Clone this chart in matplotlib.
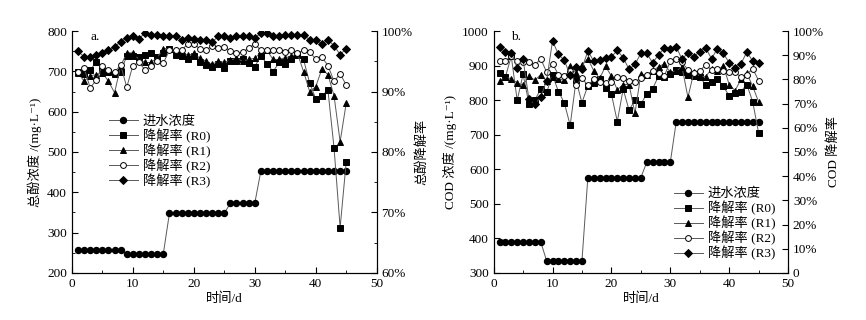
import matplotlib
matplotlib.use("Agg")
import matplotlib.pyplot as plt
from matplotlib.ticker import MultipleLocator, FuncFormatter

plt.rcParams['font.family'] = ['Liberation Serif', 'Noto Sans CJK SC', 'DejaVu Serif']
plt.rcParams['font.size'] = 9.5

days = list(range(1, 46))

# panel a: total phenol
phenol_in = [256] * 8 + [248] * 7 + [348] * 10 + [373] * 5 + [453] * 15
phenol_r0 = [93.2, 92.9, 93.6, 94.8, 93.6, 93.3, 92.9, 93.2, 95.9, 95.9,
             95.7, 96.1, 96.3, 95.7, 96.4, 97.1, 96.1, 95.9, 95.4, 95.9,
             94.8, 94.4, 94.1, 94.6, 93.9, 95.0, 95.0, 95.4, 94.7, 94.1,
             95.9, 94.6, 93.3, 94.8, 94.6, 95.4, 96.1, 95.3, 91.4, 88.8,
             89.3, 90.2, 80.7, 67.5, 78.4]
phenol_r1 = [93.1, 91.7, 92.6, 92.8, 93.1, 91.7, 89.8, 94.2, 96.4, 96.4,
             95.3, 94.8, 94.8, 95.6, 97.1, 97.1, 96.8, 96.5, 96.0, 96.3,
             95.5, 95.0, 94.5, 95.0, 94.8, 95.2, 95.5, 95.0, 95.3, 95.5,
             96.5, 96.8, 95.3, 95.3, 95.6, 95.8, 96.3, 93.3, 90.0, 90.8,
             93.7, 92.8, 89.3, 81.7, 88.1]
phenol_r2 = [93.2, 93.9, 90.6, 91.9, 94.3, 93.5, 93.2, 94.4, 90.7, 94.3,
             94.8, 93.6, 94.2, 95.0, 94.7, 96.8, 96.8, 96.8, 97.9, 97.8,
             97.1, 96.8, 97.6, 97.2, 97.4, 96.7, 96.4, 96.5, 97.2, 97.9,
             96.8, 96.8, 96.8, 96.8, 96.5, 96.8, 96.4, 96.8, 96.5, 95.4,
             95.7, 94.3, 91.7, 92.9, 91.1]
phenol_r3 = [96.7, 95.7, 95.7, 96.1, 96.4, 96.9, 97.4, 98.2, 98.9, 99.2,
             98.7, 99.7, 99.4, 99.3, 99.2, 99.1, 99.1, 98.5, 98.9, 98.7,
             98.5, 98.5, 98.2, 99.1, 99.1, 98.9, 99.1, 99.1, 99.1, 98.9,
             99.6, 99.6, 99.2, 99.2, 99.3, 99.4, 99.4, 99.3, 98.6, 98.6,
             97.9, 98.5, 97.6, 96.1, 97.1]

# panel b: COD
cod_in = [390] * 8 + [335] * 7 + [576] * 10 + [620] * 5 + [736] * 15
cod_r0 = [82.6, 81.1, 89.5, 71.4, 82.1, 70.0, 71.4, 76.1, 74.6, 81.9,
          75.0, 70.4, 61.0, 79.6, 70.4, 77.4, 78.6, 80.3, 76.4, 74.0,
          62.6, 76.0, 67.3, 71.4, 69.7, 74.1, 76.1, 81.4, 81.1, 82.3,
          83.9, 82.9, 81.9, 81.4, 80.9, 77.9, 78.9, 80.0, 77.1, 73.3,
          74.3, 75.0, 77.9, 70.7, 57.9]
cod_r1 = [79.4, 80.9, 80.3, 78.6, 77.6, 81.4, 79.7, 81.9, 79.3, 81.1,
          80.3, 79.6, 85.4, 82.6, 86.0, 88.6, 83.6, 80.4, 85.4, 81.4,
          75.7, 77.9, 77.9, 66.0, 82.1, 81.7, 83.3, 85.3, 86.4, 82.9,
          83.6, 85.0, 72.6, 82.9, 81.4, 81.1, 84.3, 83.6, 85.7, 77.9,
          75.4, 80.0, 82.6, 77.1, 70.7]
cod_r2 = [87.6, 87.8, 89.5, 87.6, 87.2, 87.0, 86.0, 88.5, 83.0, 86.5,
          82.0, 81.5, 83.5, 77.5, 80.5, 77.5, 80.0, 79.0, 78.5, 79.0,
          81.0, 80.5, 79.5, 79.0, 80.5, 82.0, 83.5, 82.5, 81.5, 87.5,
          88.5, 87.0, 84.0, 82.5, 83.5, 86.0, 84.0, 84.5, 83.5, 83.0,
          83.0, 81.0, 82.0, 84.5, 79.5]
cod_r3 = [93.4, 91.3, 91.1, 84.9, 88.3, 71.8, 69.7, 72.8, 79.4, 95.9,
          90.4, 87.9, 81.7, 85.3, 84.5, 91.7, 87.6, 88.0, 89.0, 89.3,
          92.0, 89.0, 84.2, 86.2, 90.8, 90.8, 86.9, 90.1, 93.1, 92.4,
          93.5, 88.3, 91.1, 89.4, 91.5, 93.1, 88.6, 92.7, 90.8, 86.9,
          84.9, 86.5, 91.3, 87.6, 86.9]

labels = ['进水浓度', '降解率 (R0)', '降解率 (R1)', '降解率 (R2)', '降解率 (R3)']
line_kw = dict(color='0.35', lw=0.7, mec='k')


def draw_panel(rect, inflow, rates, ylim, yminor, rlim, rminor, rfmt,
               ylabel, rlabel, tag, leg_anchor):
    ax = fig.add_axes(rect)
    ax2 = ax.twinx()
    h0, = ax.plot(days, inflow, marker='o', ms=4.3, mfc='k', **line_kw)
    hs = [h0]
    styles = [('s', 3.8, 'k'), ('^', 4.2, 'k'), ('o', 4.2, 'w'), ('D', 3.8, 'k')]
    for vals, (m, ms, fc) in zip(rates, styles):
        h, = ax2.plot(days, vals, marker=m, ms=ms, mfc=fc, mew=0.7, **line_kw)
        hs.append(h)

    ax.set_xlim(0, 50)
    ax.set_ylim(*ylim)
    ax2.set_ylim(*rlim)
    ax.xaxis.set_major_locator(MultipleLocator(10))
    ax.xaxis.set_minor_locator(MultipleLocator(5))
    ax.yaxis.set_major_locator(MultipleLocator(100))
    if yminor:
        ax.yaxis.set_minor_locator(MultipleLocator(yminor))
    ax2.yaxis.set_major_locator(MultipleLocator(10))
    if rminor:
        ax2.yaxis.set_minor_locator(MultipleLocator(rminor))
    ax2.yaxis.set_major_formatter(FuncFormatter(rfmt))

    for a in (ax, ax2):
        a.spines['top'].set_visible(False)
        a.tick_params(which='both', direction='in', top=False)
        a.tick_params(which='major', length=4)
        a.tick_params(which='minor', length=2.5)
    ax.tick_params(right=False, which='both')

    ax.set_xlabel('时间/d', labelpad=2)
    ax.set_ylabel(ylabel, labelpad=4)
    ax2.set_ylabel(rlabel, rotation=90, labelpad=2)
    ax.text(0.06, 1.0, tag, transform=ax.transAxes, va='top', fontsize=9.5)

    ax2.legend(hs, labels, loc='upper left', bbox_to_anchor=leg_anchor,
               frameon=False, handlelength=2.2, labelspacing=0.05,
               handletextpad=0.4, borderpad=0.2, fontsize=9.5)
    return ax, ax2


fig = plt.figure(figsize=(8.66, 3.2), dpi=100)

draw_panel([0.083, 0.147, 0.352, 0.756], phenol_in,
           [phenol_r0, phenol_r1, phenol_r2, phenol_r3],
           (200, 800), 50, (60, 100), 5,
           lambda v, p: f'{v:.0f}%',
           '总酚浓度 /(mg·L⁻¹)', '总酚降解率', 'a.', (0.09, 0.69))

draw_panel([0.570, 0.147, 0.340, 0.756], cod_in,
           [cod_r0, cod_r1, cod_r2, cod_r3],
           (300, 1000), None, (0, 100), None,
           lambda v, p: '0' if v == 0 else f'{v:.0f}%',
           'COD 浓度 /(mg·L⁻¹)', 'COD 降解率', 'b.', (0.58, 0.39))

fig.savefig('out.png', dpi=100)
